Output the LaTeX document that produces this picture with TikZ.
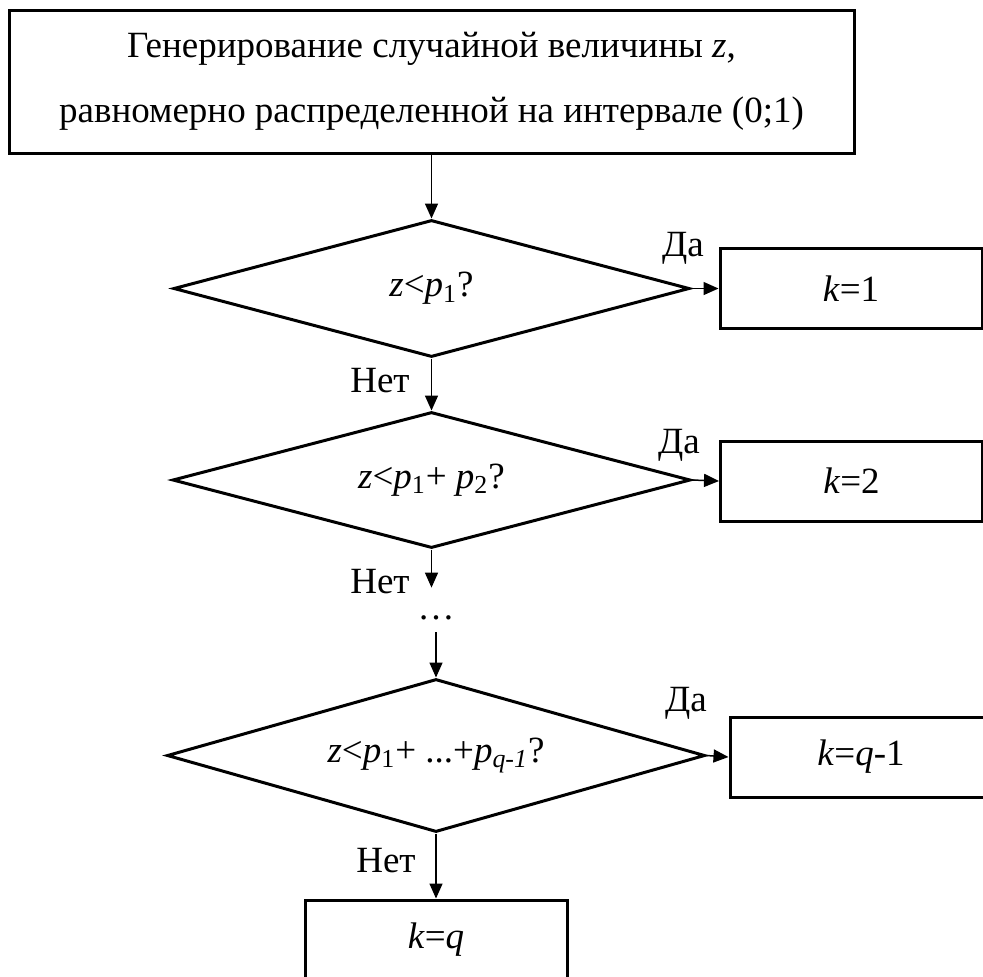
\documentclass[tikz,border=0pt]{standalone}
\usepackage{fontspec}
\setmainfont{Liberation Serif}
\usetikzlibrary{arrows.meta,shapes.geometric,positioning}

\begin{document}
\begin{tikzpicture}[x=0.5pt, y=-0.5pt, >={Triangle[length=7.5pt,width=6.5pt]}]

% ------------------------------------------------
% Styles
% ------------------------------------------------
\tikzset{
    txt/.style={font=\fontsize{18.5}{32.5}\selectfont},
    blk/.style={txt, draw, line width=1.5pt, inner sep=0pt, align=center},
    res/.style={blk, minimum width=131pt, minimum height=40pt},
    cond/.style={txt, draw, diamond, aspect=3.5, line width=1.5pt, inner sep=0pt},
    flow/.style={->, line width=0.75pt},
    lbl/.style={txt, anchor=base, inner sep=0pt},
}

\useasboundingbox (0,0) rectangle (983,976);

% ------------------------------------------------
% Generator block
% ------------------------------------------------
\node[blk, minimum width=422.5pt, minimum height=71.5pt] (gen) at (431.5,81.5)
    {Генерирование случайной величины \textit{z},\\равномерно распределенной на интервале (0;1)};

% ------------------------------------------------
% Conditions
% ------------------------------------------------
\node[cond, minimum width=258pt, minimum height=68.5pt] (c1) at (431.5,288.5)
    {\textit{z}<\textit{p}\textsubscript{1}?};
\node[cond, minimum width=259pt, minimum height=68pt] (c2) at (431.5,480)
    {\textit{z}<\textit{p}\textsubscript{1}+ \textit{p}\textsubscript{2}?};
\node[cond, minimum width=269pt, minimum height=76.5pt] (c3) at (436,755.5)
    {\textit{z}<\textit{p}\textsubscript{1}+ ...+\textit{p}\textsubscript{\textit{q-1}}?};

\node[lbl, text height=15.5pt, text depth=6.5pt] (dots) at (436,619) {…};

% ------------------------------------------------
% Results
% ------------------------------------------------
\node[res] (k1) at (851,288.5) {\textit{k}=1};
\node[res] (k2) at (851.5,481) {\textit{k}=2};
\node[res] (kq1) at (861,757) {\textit{k}=\textit{q}-1};
\node[res] (kq) at (436,940) {\textit{k}=\textit{q}};

% ------------------------------------------------
% Flow lines
% ------------------------------------------------
\draw[flow] (gen.south) -- (c1.north);
\draw[flow] (c1.east) -- (k1.west);
\draw[flow] (c1.south) -- (c2.north);
\draw[flow] (c2.east) -- (k2.west);
\draw[flow] (c2.south) -- (c2.south |- dots.north);
\draw[flow] (dots.south) -- (c3.north);
\draw[flow] (c3.east) -- (kq1.west);
\draw[flow] (c3.south) -- (kq.north);

% labels
\node[lbl] (yes1) at (683,256) {Да};
\node[lbl] (yes2) at (679,453) {Да};
\node[lbl] (yes3) at (686,711) {Да};
\node[lbl] (no1) at (380,392) {Нет};
\node[lbl] (no2) at (380,593) {Нет};
\node[lbl] (no3) at (386,872) {Нет};

\end{tikzpicture}
\end{document}
